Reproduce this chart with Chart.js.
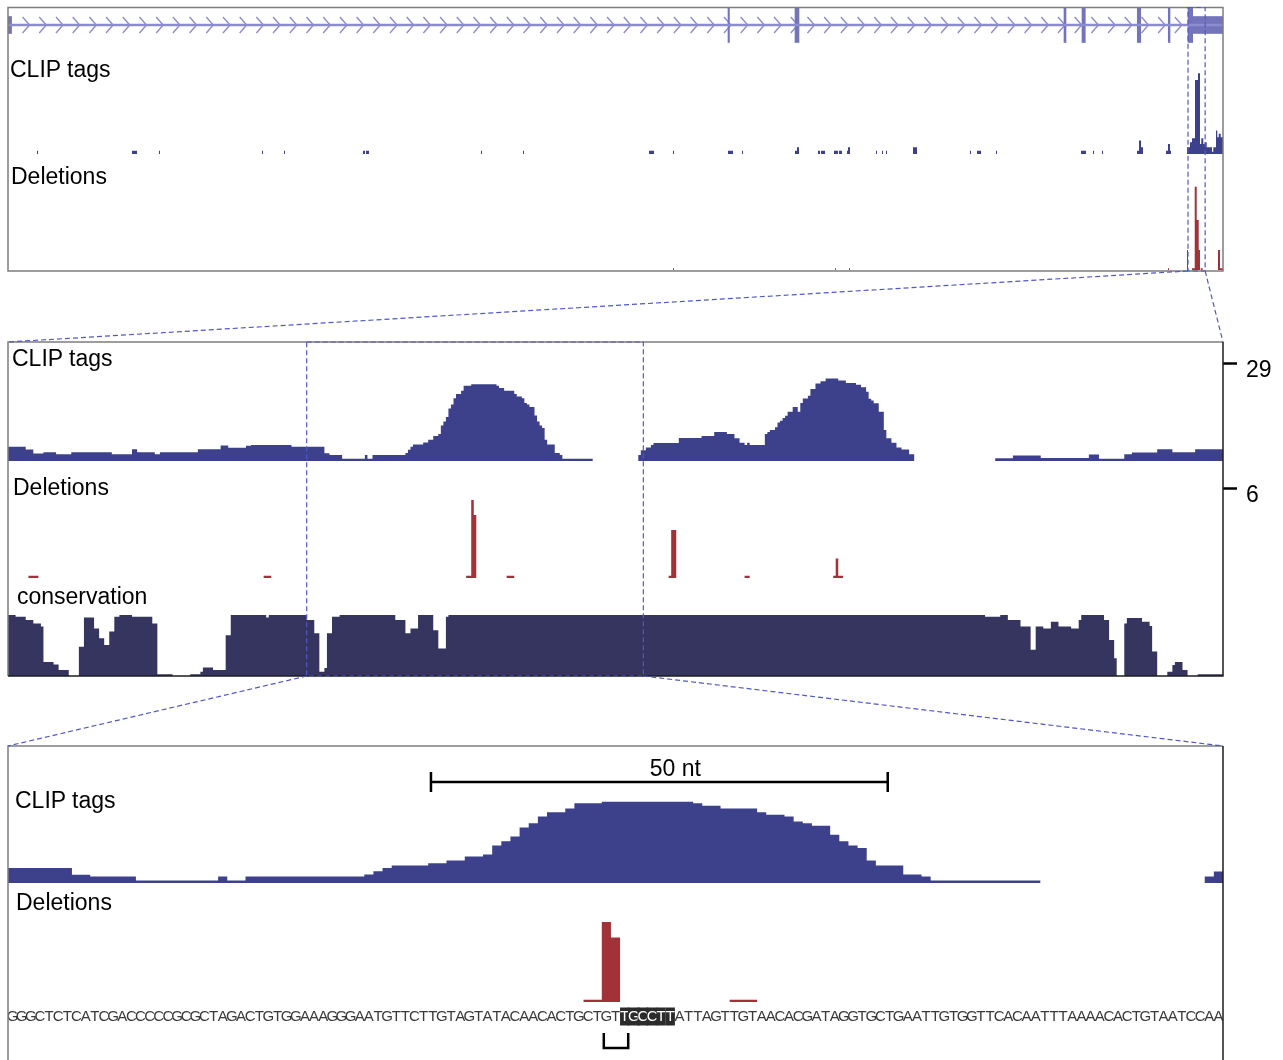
<!DOCTYPE html>
<html>
<head>
<meta charset="utf-8">
<script src="https://cdn.jsdelivr.net/npm/chart.js@4.4.1/dist/chart.umd.min.js"></script>
<style>
  html, body { margin: 0; padding: 0; background: #fff; }
  #stage { position: relative; width: 1283px; height: 1060px; overflow: hidden; }
  #stage canvas { position: absolute; }
  .lbl { position: absolute; z-index: 3; font: 23px "Liberation Sans", Arial, sans-serif; line-height: 23px; color: #000; white-space: nowrap; }
</style>
</head>
<body>
<div id="stage">
  <div class="lbl" style="left:10px;top:58px">CLIP tags</div>
  <div class="lbl" style="left:11px;top:165px">Deletions</div>
  <div class="lbl" style="left:12px;top:347px">CLIP tags</div>
  <div class="lbl" style="left:13px;top:476px">Deletions</div>
  <div class="lbl" style="left:17px;top:585px">conservation</div>
  <div class="lbl" style="left:15px;top:789px">CLIP tags</div>
  <div class="lbl" style="left:16px;top:891px">Deletions</div>
</div>
<script>
// genomic windows (nt)
const overviewRange = [0, 34020];
const regionRange = [33040, 33520];
const baseRange = [33158, 33291];

// gene model
const utrExons = [[0, 100], [33170, 34020]];
const cdsExons = [[20160, 20200], [22036, 22148], [29568, 29624], [30072, 30164], [31620, 31716], [32488, 32536], [33040, 33170]];

// overview tracks: [start, end, value]
const clipOverview = [
  [812, 840, 1], [3472, 3612, 1], [4228, 4256, 1], [7112, 7140, 1], [7728, 7756, 1],
  [9940, 9996, 1], [10024, 10108, 1], [13244, 13272, 1], [14420, 14448, 1], [17948, 18088, 1],
  [18620, 18648, 1], [20160, 20300, 1], [20552, 20580, 1], [22036, 22092, 1], [22092, 22148, 2],
  [22680, 22736, 1], [22764, 22876, 1], [23128, 23240, 1], [23268, 23352, 1], [23492, 23520, 1],
  [23520, 23576, 2], [24304, 24332, 1], [24472, 24500, 1], [24584, 24612, 1], [25340, 25452, 2],
  [26936, 26964, 1], [27132, 27244, 1], [27664, 27692, 1], [30044, 30184, 1], [30380, 30408, 1],
  [30632, 30660, 1], [31612, 31668, 1], [31668, 31724, 4], [31724, 31780, 2], [32424, 32480, 1],
  [32480, 32536, 3], [32536, 32564, 1], [33012, 33096, 2], [33096, 33152, 3.5], [33152, 33236, 4.7],
  [33236, 33320, 22], [33320, 33376, 24], [33376, 33412, 3], [33412, 33468, 4.7], [33468, 33508, 3],
  [33508, 33564, 3.5], [33564, 33712, 2], [33712, 33748, 0.7], [33748, 33824, 2], [33824, 33860, 7],
  [33860, 33900, 5], [33900, 33956, 6], [33956, 34020, 5]
];
const delOverview = [
  [18620, 18648, 0.1], [23156, 23184, 0.1], [23548, 23576, 0.1], [32480, 32508, 0.1],
  [33012, 33040, 1.2], [33152, 33228, 0.1], [33228, 33284, 5], [33284, 33340, 3],
  [33340, 33376, 1.2], [33396, 33452, 0.1], [33880, 33936, 1.2], [33936, 34020, 0.1]
];

// detail tracks
// CLIP coverage steps: [position, tags] (value holds until next position)
const clipCoverage = [
  [33040, 4.2], [33047, 3.4], [33050, 2.2], [33054, 2.6], [33059, 2], [33065, 2.6], [33081, 2],
  [33089, 3.5], [33091, 2.6], [33098, 2], [33100, 2.6], [33115, 3.5], [33124, 4.6], [33127, 3.9],
  [33134, 4.5], [33136, 4.7], [33152, 4.2], [33165, 2.3], [33167, 1.8], [33172, 0.7], [33181, 1.8],
  [33182, 0.7], [33184, 1.8], [33197, 2.4], [33198, 3.3], [33199, 4.2], [33200, 4.9], [33204, 5.5],
  [33206, 6.3], [33208, 7.4], [33210, 8.0], [33211, 10.5], [33212, 11.7], [33213, 13], [33214, 15.5],
  [33215, 16.7], [33216, 18.6], [33217, 19.8], [33219, 20.8], [33220, 22.3], [33223, 22.7],
  [33233, 22.3], [33234, 21.6], [33236, 20.8], [33240, 19.8], [33241, 19.1], [33243, 18.6],
  [33244, 17.2], [33245, 16.7], [33246, 16.0], [33248, 13.5], [33249, 11.7], [33250, 10.5],
  [33251, 9.8], [33252, 6.3], [33253, 4.9], [33256, 2.4], [33258, 1.8], [33259, 0.7], [33271, 0],
  [33289, 1.8], [33290, 3.2], [33292, 4], [33294, 4.7], [33295, 5.3], [33305, 6.8], [33314, 7.4],
  [33319, 8.6], [33324, 8], [33327, 6.7], [33329, 5.4], [33331, 4.7], [33332, 5.4], [33333, 4.7],
  [33339, 8], [33340, 8.6], [33341, 9.2], [33343, 10], [33344, 11.4], [33345, 11.9], [33346, 12.7],
  [33347, 13.4], [33348, 14.6], [33350, 16], [33352, 14.6], [33353, 17.2], [33354, 18.5],
  [33356, 19.3], [33357, 21.3], [33359, 22.9], [33361, 23.6], [33363, 24.4], [33368, 23.8],
  [33371, 23.1], [33375, 22.6], [33377, 21.8], [33379, 20.5], [33380, 18.4], [33381, 17.9],
  [33382, 17.1], [33384, 14.6], [33386, 9.2], [33387, 6.7], [33389, 5.4], [33391, 4], [33393, 3.4],
  [33396, 2], [33398, 0], [33430, 0.8], [33437, 1.6], [33448, 0.9], [33467, 1.9], [33471, 0.7],
  [33481, 2], [33484, 2.5], [33494, 3.5], [33500, 2.6], [33509, 3.5]
];
const deletions = [
  [33048, 33052, 0.15], [33141, 33144, 0.15], [33221, 33223, 0.15], [33223, 33224, 5.2],
  [33224, 33225, 4.2], [33237, 33240, 0.15], [33301, 33302, 0.15], [33302, 33304, 3.2],
  [33331, 33333, 0.15], [33366, 33367, 0.15], [33367, 33368, 1.3], [33368, 33370, 0.15]
];
const conservation = [
  [33040, 1.0], [33043, 0.97], [33047, 0.92], [33050, 0.86], [33053, 0.81], [33054, 0.23],
  [33058, 0.19], [33060, 0.1], [33064, 0], [33068, 0.48], [33070, 0.96], [33074, 0.78],
  [33076, 0.62], [33078, 0.51], [33080, 0.73], [33082, 0.97], [33084, 1.0], [33089, 0.97],
  [33097, 0.86], [33099, 0.03], [33105, 0], [33112, 0.03], [33116, 0.07], [33117, 0.14],
  [33121, 0.1], [33126, 0.67], [33128, 1.0], [33142, 0.96], [33143, 1.0], [33158, 0.92],
  [33161, 0.7], [33163, 0.07], [33165, 0.13], [33166, 0.7], [33168, 0.97], [33171, 1.0],
  [33193, 0.92], [33197, 0.7], [33199, 0.78], [33202, 1.0], [33208, 0.75], [33210, 0.45],
  [33213, 0.97], [33214, 1.0], [33426, 0.97], [33432, 1.0], [33435, 0.92], [33440, 0.81],
  [33444, 0.43], [33446, 0.81], [33449, 0.78], [33452, 0.89], [33455, 0.81], [33460, 0.78],
  [33463, 0.92], [33464, 1.0], [33473, 0.92], [33475, 0.59], [33477, 0.29], [33478, 0],
  [33481, 0.86], [33482, 0.95], [33488, 0.89], [33491, 0.82], [33492, 0.4], [33494, 0],
  [33498, 0.07], [33500, 0.18], [33501, 0.23], [33504, 0.1], [33506, 0], [33510, 0.03]
];

// base level
const sequence = 'GGGCTCTCATCGACCCCCGCGCTAGACTGTGGAAAGGGAATGTTCTTGTAGTATACAACACTGCTGTTGCCTTATTAGTTGTAACACGATAGGTGCTGAATTGTGGTTCACAATTTAAAACACTGTAATCCAA';
const highlight = [67, 72];
const siteMark = [33223, 33226];
const scaleBarStart = 33204.3, scaleBarLength = 50;
const clipTick = 29, delTick = 6;

const clipColor = '#3d418b', delColor = '#a13237', consColor = '#35355f';
const exonColor = '#7474ba', intronColor = '#8b8bcf', zoomColor = '#5058c8';
const seqFont = { family: "'Liberation Sans Narrow', 'Liberation Sans', Arial", size: 15 };

const stage = document.getElementById('stage');
function makeCanvas(left, top, width, height) {
  const c = document.createElement('canvas');
  c.width = width; c.height = height;
  c.style.left = left + 'px'; c.style.top = top + 'px';
  c.style.width = width + 'px'; c.style.height = height + 'px';
  stage.appendChild(c);
  return c;
}

function segPoints(segs) {
  const pts = [{ x: segs[0][0], y: 0 }];
  segs.forEach(([s, e, v]) => { pts.push({ x: s, y: v }, { x: e, y: 0 }); });
  return pts;
}
function stepPoints(steps, end) {
  const pts = steps.map(([x, y]) => ({ x, y }));
  pts.push({ x: end, y: steps[steps.length - 1][1] });
  return pts;
}

function trackChart(canvas, points, color, range, yMax, opts = {}) {
  return new Chart(canvas, {
    type: 'line',
    data: { datasets: [{ data: points, stepped: true, fill: 'origin', backgroundColor: color, borderWidth: 0, pointRadius: 0 }] },
    options: {
      responsive: false, animation: false, devicePixelRatio: 1, events: [],
      layout: { padding: opts.padding || 0 },
      plugins: { legend: { display: false }, tooltip: { enabled: false } },
      scales: {
        x: Object.assign({ type: 'linear', display: false, min: range[0], max: range[1] }, opts.x || {}),
        y: Object.assign({ type: 'linear', display: false, min: 0, max: yMax }, opts.y || {})
      }
    },
    plugins: opts.plugins || []
  });
}

function sideTick(value) {
  return {
    display: true, position: 'right',
    afterBuildTicks: s => { s.ticks = [{ value }]; },
    afterFit: s => { s.width = 60; s.paddingTop = 0; s.paddingBottom = 0; },
    grid: { drawOnChartArea: false, drawTicks: true, tickLength: 14, tickWidth: 2.5, tickColor: '#000' },
    border: { display: false },
    ticks: { padding: 9, labelOffset: 8, color: '#000', font: { family: "'Liberation Sans', Arial", size: 23 } }
  };
}

// ---- panel 1: gene model + overview ----
const chevrons = {
  id: 'chevrons',
  beforeDatasetsDraw(chart) {
    const { ctx, chartArea, scales: { x } } = chart;
    const y = (chartArea.top + chartArea.bottom) / 2;
    const from = x.getPixelForValue(utrExons[0][1]) + 18;
    const to = x.getPixelForValue(utrExons[1][0]) - 2;
    ctx.save();
    ctx.strokeStyle = intronColor; ctx.lineWidth = 1.4;
    ctx.beginPath();
    for (let p = from; p < to; p += 16.7) {
      ctx.moveTo(p - 7, y - 8); ctx.lineTo(p, y); ctx.lineTo(p - 7, y + 8);
    }
    ctx.stroke();
    ctx.restore();
  }
};
const geneSets = [{ data: [overviewRange], backgroundColor: intronColor, barThickness: 2 }]
  .concat(utrExons.map(e => ({ data: [e], backgroundColor: exonColor, barThickness: 17 })))
  .concat(cdsExons.map(e => ({ data: [e], backgroundColor: exonColor, barThickness: 35 })))
  .map(d => Object.assign({ grouped: false, borderWidth: 0 }, d));
const geneChart = new Chart(makeCanvas(8, 7, 1215, 36), {
  type: 'bar',
  data: { labels: ['gene'], datasets: geneSets },
  options: {
    indexAxis: 'y', responsive: false, animation: false, devicePixelRatio: 1, events: [],
    plugins: { legend: { display: false }, tooltip: { enabled: false } },
    scales: {
      x: { type: 'linear', display: false, min: overviewRange[0], max: overviewRange[1] },
      y: { display: false }
    }
  },
  plugins: [chevrons]
});

const clipOverviewChart = trackChart(makeCanvas(8, 70, 1215, 84), segPoints(clipOverview), clipColor, overviewRange, 25);
const delOverviewChart = trackChart(makeCanvas(8, 180, 1215, 90), segPoints(delOverview), delColor, overviewRange, 5.4);

// ---- panel 2: region ----
const clipRegionChart = trackChart(makeCanvas(8, 351, 1275, 110), stepPoints(clipCoverage, regionRange[1]), clipColor, regionRange, clipTick,
  { padding: { top: 12 }, y: sideTick(clipTick) });
const delRegionChart = trackChart(makeCanvas(8, 476, 1275, 102), segPoints(deletions), delColor, regionRange, delTick,
  { padding: { top: 12 }, y: sideTick(delTick) });
const consChart = trackChart(makeCanvas(8, 615, 1215, 61), stepPoints(conservation, regionRange[1]), consColor, regionRange, 1);

// ---- panel 3: base level ----
const scaleBar = {
  id: 'scaleBar',
  afterDraw(chart) {
    const { ctx, chartArea, scales: { x } } = chart;
    const x1 = x.getPixelForValue(scaleBarStart), x2 = x.getPixelForValue(scaleBarStart + scaleBarLength);
    const y = chartArea.top - 8;
    ctx.save();
    ctx.strokeStyle = '#000'; ctx.lineWidth = 2.5;
    ctx.beginPath();
    ctx.moveTo(x1, y); ctx.lineTo(x2, y);
    ctx.moveTo(x1, y - 10); ctx.lineTo(x1, y + 10);
    ctx.moveTo(x2, y - 10); ctx.lineTo(x2, y + 10);
    ctx.stroke();
    ctx.fillStyle = '#000'; ctx.font = '23px "Liberation Sans", Arial';
    ctx.textAlign = 'center'; ctx.textBaseline = 'alphabetic';
    ctx.fillText(scaleBarLength + ' nt', (x1 + x2) / 2 + 16, y - 6);
    ctx.restore();
  }
};
const bracket = {
  id: 'bracket',
  afterDraw(chart) {
    const { ctx, chartArea, scales: { x } } = chart;
    const x1 = x.getPixelForValue(siteMark[0]) + 2, x2 = x.getPixelForValue(siteMark[1]) - 1;
    const y0 = chartArea.bottom + 31, y1 = chartArea.bottom + 46;
    ctx.save();
    ctx.strokeStyle = '#000'; ctx.lineWidth = 2.5;
    ctx.beginPath();
    ctx.moveTo(x1, y0); ctx.lineTo(x1, y1); ctx.lineTo(x2, y1); ctx.lineTo(x2, y0);
    ctx.stroke();
    ctx.restore();
  }
};
const isHl = i => i >= highlight[0] && i <= highlight[1];
// highlighted bases get one box each, of equal width
const measureCtx = document.createElement('canvas').getContext('2d');
measureCtx.font = seqFont.size + 'px ' + seqFont.family;
const boxPad = i => {
  const p = (8.2 - measureCtx.measureText(sequence[i]).width) / 2;
  return { top: -1.5, bottom: -1.5, left: p, right: p };
};
const seqAxis = {
  display: true, position: 'bottom',
  afterBuildTicks: s => { s.ticks = sequence.split('').map((c, i) => ({ value: baseRange[0] + i + 0.5 })); },
  afterFit: s => { s.height = 30; s.paddingLeft = 0; s.paddingRight = 0; },
  grid: { display: false, drawTicks: false },
  border: { display: false },
  ticks: {
    autoSkip: false, maxRotation: 0, minRotation: 0, padding: 5.5,
    callback: (v, i) => sequence[i],
    font: seqFont,
    color: c => isHl(c.index) ? '#fff' : '#3a3a3a',
    showLabelBackdrop: c => isHl(c.index),
    backdropColor: '#2b2b2b',
    backdropPadding: c => boxPad(c.index)
  }
};
const clipBaseChart = trackChart(makeCanvas(8, 750, 1215, 133), stepPoints(clipCoverage, regionRange[1]), clipColor, baseRange, 26,
  { padding: { top: 40 }, plugins: [scaleBar] });
const delBaseChart = trackChart(makeCanvas(8, 912, 1215, 148), segPoints(deletions), delColor, baseRange, 5.85,
  { padding: { bottom: 28 }, x: seqAxis, plugins: [bracket] });

// ---- frames and zoom connectors ----
const ov = makeCanvas(0, 0, 1283, 1060);
ov.style.zIndex = 2;
const g = ov.getContext('2d');
const pageX = (chart, v) => chart.canvas.offsetLeft + chart.scales.x.getPixelForValue(v);
const pageY = (chart, v) => chart.canvas.offsetTop + chart.scales.y.getPixelForValue(v);

const left = pageX(geneChart, overviewRange[0]), right = pageX(geneChart, overviewRange[1]);
const p1Top = 7.5, p1Bottom = pageY(delOverviewChart, 0) + 1;
const p2Top = 342, p2Bottom = pageY(consChart, 0);
const p3Top = 746;

g.lineWidth = 1.5;
g.strokeStyle = '#7d7d7d';
g.strokeRect(left, p1Top, right - left, p1Bottom - p1Top);
g.beginPath();
g.moveTo(left, p2Bottom); g.lineTo(left, p2Top); g.lineTo(right, p2Top);
g.moveTo(left, 1062); g.lineTo(left, p3Top); g.lineTo(right, p3Top);
g.stroke();
g.strokeStyle = '#1e1e1e';
g.beginPath();
g.moveTo(right, p2Top); g.lineTo(right, p2Bottom); g.lineTo(left, p2Bottom);
g.moveTo(right, p3Top); g.lineTo(right, 1062);
g.stroke();

g.strokeStyle = zoomColor; g.lineWidth = 1.2; g.setLineDash([5, 3]);
const bx1 = pageX(clipOverviewChart, regionRange[0]), bx2 = pageX(clipOverviewChart, regionRange[1]);
g.strokeRect(bx1, p1Top, bx2 - bx1, p1Bottom - p1Top);
g.beginPath();
g.moveTo(bx1, p1Bottom); g.lineTo(left, p2Top);
g.moveTo(bx2, p1Bottom); g.lineTo(right, p2Top);
g.stroke();
const cx1 = pageX(clipRegionChart, baseRange[0]), cx2 = pageX(clipRegionChart, baseRange[1]);
g.strokeRect(cx1, p2Top, cx2 - cx1, p2Bottom - p2Top);
g.beginPath();
g.moveTo(cx1, p2Bottom); g.lineTo(left, p3Top);
g.moveTo(cx2, p2Bottom); g.lineTo(right, p3Top);
g.stroke();
</script>
</body>
</html>
